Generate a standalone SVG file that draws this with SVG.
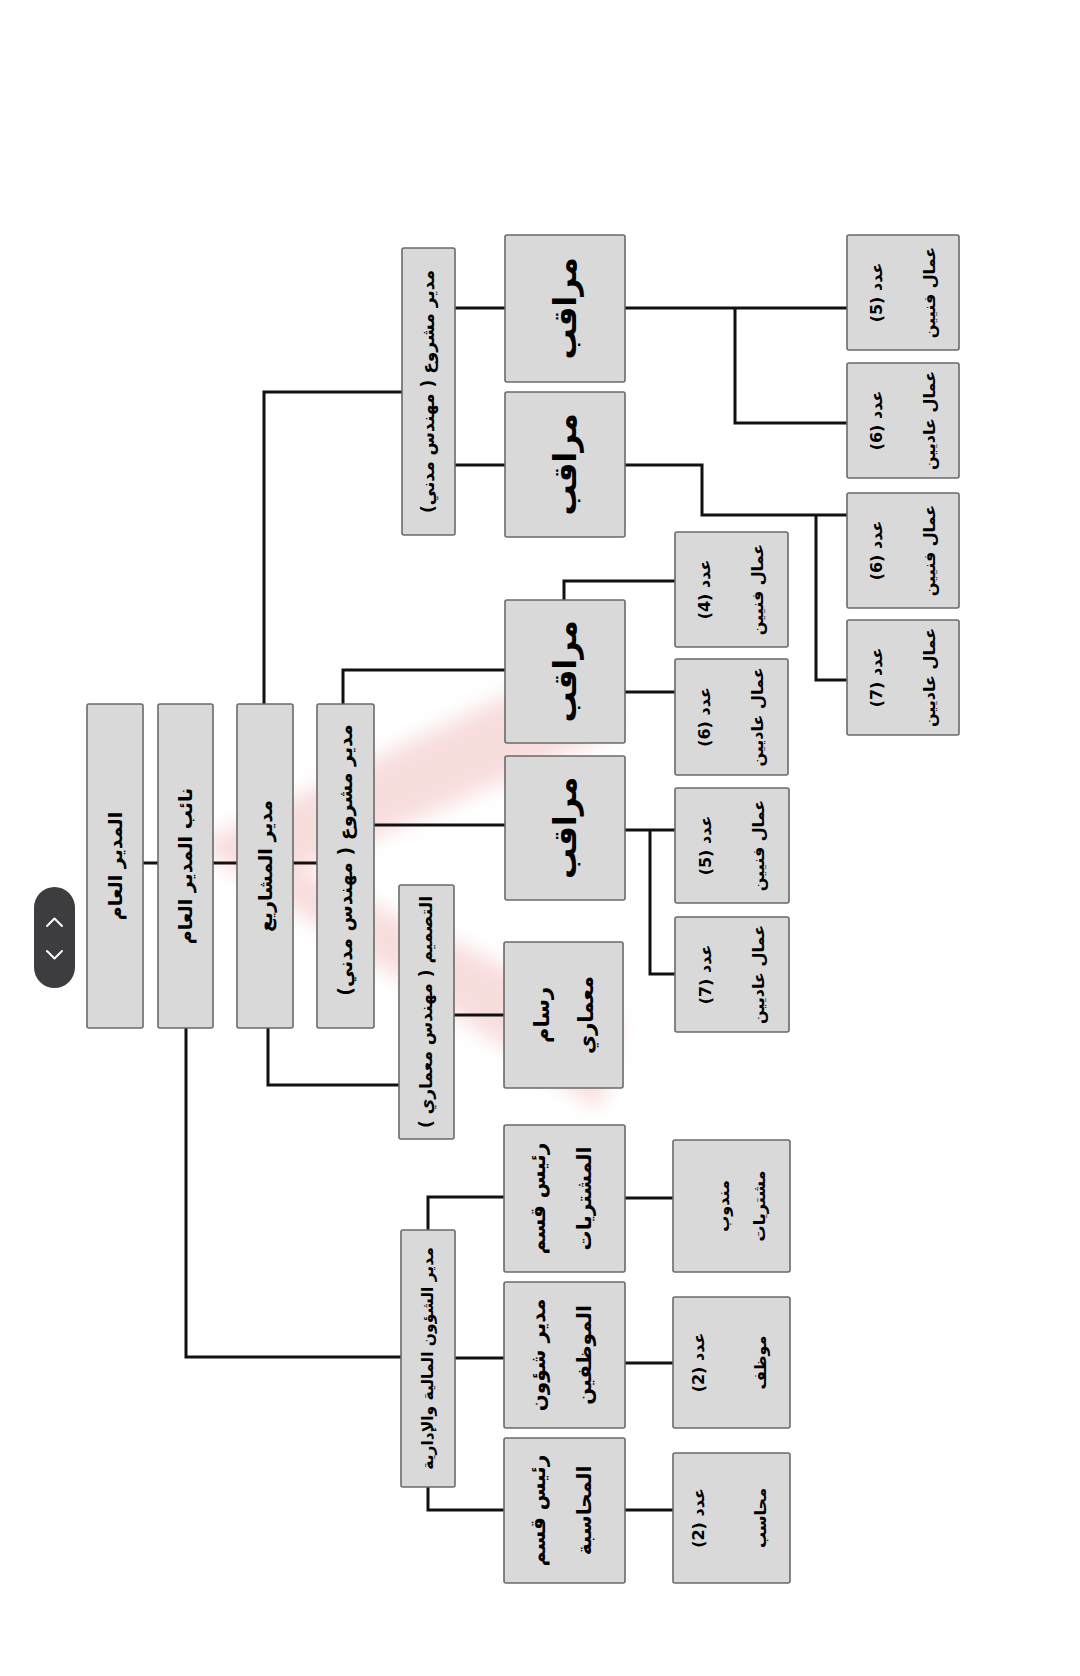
<svg xmlns="http://www.w3.org/2000/svg" width="1080" height="1676" viewBox="0 0 1080 1676">
<style>
.box{fill:#d9d9d9;stroke:#6a6a6a;stroke-width:1.6}
.ln{stroke:#111;stroke-width:3;fill:none;stroke-linecap:square}
.t{font-family:"DejaVu Sans",sans-serif;font-weight:bold;fill:#000;text-anchor:middle;direction:rtl;unicode-bidi:embed}
.s{font-size:15.5px}
.m{font-size:19px}
.n{font-size:17px}
.b{font-size:31px}
.w{font-size:16px}
</style>
<defs>
<filter id="soft" x="-20%" y="-20%" width="140%" height="140%"><feGaussianBlur stdDeviation="10"/></filter>
</defs>
<rect width="1080" height="1676" fill="#ffffff"/>
<g id="watermark" opacity="0.45" filter="url(#soft)">
<polygon points="195,845 600,650 620,730 300,870 620,1020 600,1110" fill="#f0b4b4"/>
</g>
<g id="connectors">
<path class="ln" d="M143,863H158M213,863H237M293,863H317"/>
<path class="ln" d="M264,704V392H402"/>
<path class="ln" d="M268,1028V1085H399"/>
<path class="ln" d="M186,1028V1357H401"/>
<path class="ln" d="M455,308H505M455,465H505"/>
<path class="ln" d="M625,308H847M735,308V423H847"/>
<path class="ln" d="M625,465H702V515H847M816,515V680H847"/>
<path class="ln" d="M343,704V670H505M374,825H505"/>
<path class="ln" d="M564,600V581H675M625,692H675"/>
<path class="ln" d="M625,830H675M650,830V974H675"/>
<path class="ln" d="M454,1015H504"/>
<path class="ln" d="M428,1230V1197H504M455,1358H504M428,1487V1510H504"/>
<path class="ln" d="M625,1198H673M625,1363H673M625,1510H673"/>
</g>
<g id="n-gm"><rect class="box" x="87" y="704" width="56" height="324" rx="2"/><text class="t m" transform="translate(115 866) rotate(-90)" dy="0.35em">المدير العام</text></g>
<g id="n-dgm"><rect class="box" x="158" y="704" width="55" height="324" rx="2"/><text class="t m" transform="translate(185.5 866) rotate(-90)" dy="0.35em">نائب المدير العام</text></g>
<g id="n-pd"><rect class="box" x="237" y="704" width="56" height="324" rx="2"/><text class="t m" transform="translate(265 866) rotate(-90)" dy="0.35em">مدير المشاريع</text></g>
<g id="n-pm2"><rect class="box" x="317" y="704" width="57" height="324" rx="2"/><text class="t m" transform="translate(345.5 860) rotate(-90)" dy="0.35em">مدير مشروع ( مهندس مدني)</text></g>
<g id="n-pm1"><rect class="box" x="402" y="248" width="53" height="287" rx="2"/><text class="t n" transform="translate(428.5 391.5) rotate(-90)" dy="0.35em">مدير مشروع ( مهندس مدني)</text></g>
<g id="n-design"><rect class="box" x="399" y="885" width="55" height="254" rx="2"/><text class="t n" transform="translate(426.5 1012) rotate(-90)" dy="0.35em">التصميم ( مهندس معماري )</text></g>
<g id="n-supA"><rect class="box" x="505" y="235" width="120" height="147" rx="2"/><text class="t b" transform="translate(565 308.5) rotate(-90)" dy="0.35em">مراقب</text></g>
<g id="n-supB"><rect class="box" x="505" y="392" width="120" height="145" rx="2"/><text class="t b" transform="translate(565 464.5) rotate(-90)" dy="0.35em">مراقب</text></g>
<g id="n-supC"><rect class="box" x="505" y="600" width="120" height="143" rx="2"/><text class="t b" transform="translate(565 671.5) rotate(-90)" dy="0.35em">مراقب</text></g>
<g id="n-supD"><rect class="box" x="505" y="756" width="120" height="144" rx="2"/><text class="t b" transform="translate(565 828) rotate(-90)" dy="0.35em">مراقب</text></g>
<g id="n-draft"><rect class="box" x="504" y="942" width="119" height="146" rx="2"/><text class="t" font-size="21" transform="translate(563.5 1015) rotate(-90)"><tspan x="0" y="-22" dy="0.35em">رسام</tspan><tspan x="0" y="22" dy="0.35em">معماري</tspan></text></g>
<g id="n-wC1"><rect class="box" x="675" y="532" width="113" height="115" rx="2"/><text class="t w" transform="translate(731.5 589.5) rotate(-90)"><tspan x="0" y="-27" dy="0.35em">عدد (4)</tspan><tspan x="0" y="26" dy="0.35em">عمال فنيين</tspan></text></g>
<g id="n-wC2"><rect class="box" x="675" y="659" width="113" height="116" rx="2"/><text class="t w" transform="translate(731.5 717) rotate(-90)"><tspan x="0" y="-27" dy="0.35em">عدد (6)</tspan><tspan x="0" y="26" dy="0.35em">عمال عاديين</tspan></text></g>
<g id="n-wD1"><rect class="box" x="675" y="788" width="114" height="115" rx="2"/><text class="t w" transform="translate(732 845.5) rotate(-90)"><tspan x="0" y="-27" dy="0.35em">عدد (5)</tspan><tspan x="0" y="26" dy="0.35em">عمال فنيين</tspan></text></g>
<g id="n-wD2"><rect class="box" x="675" y="917" width="114" height="115" rx="2"/><text class="t w" transform="translate(732 974.5) rotate(-90)"><tspan x="0" y="-27" dy="0.35em">عدد (7)</tspan><tspan x="0" y="26" dy="0.35em">عمال عاديين</tspan></text></g>
<g id="n-wA1"><rect class="box" x="847" y="235" width="112" height="115" rx="2"/><text class="t w" transform="translate(903 292.5) rotate(-90)"><tspan x="0" y="-27" dy="0.35em">عدد (5)</tspan><tspan x="0" y="26" dy="0.35em">عمال فنيين</tspan></text></g>
<g id="n-wA2"><rect class="box" x="847" y="363" width="112" height="115" rx="2"/><text class="t w" transform="translate(903 420.5) rotate(-90)"><tspan x="0" y="-27" dy="0.35em">عدد (6)</tspan><tspan x="0" y="26" dy="0.35em">عمال عاديين</tspan></text></g>
<g id="n-wB1"><rect class="box" x="847" y="493" width="112" height="115" rx="2"/><text class="t w" transform="translate(903 550.5) rotate(-90)"><tspan x="0" y="-27" dy="0.35em">عدد (6)</tspan><tspan x="0" y="26" dy="0.35em">عمال فنيين</tspan></text></g>
<g id="n-wB2"><rect class="box" x="847" y="620" width="112" height="115" rx="2"/><text class="t w" transform="translate(903 677.5) rotate(-90)"><tspan x="0" y="-27" dy="0.35em">عدد (7)</tspan><tspan x="0" y="26" dy="0.35em">عمال عاديين</tspan></text></g>
<g id="n-fin"><rect class="box" x="401" y="1230" width="54" height="257" rx="2"/><text class="t s" transform="translate(428 1358.5) rotate(-90)" dy="0.35em">مدير الشؤون المالية والإدارية</text></g>
<g id="n-purch"><rect class="box" x="504" y="1125" width="121" height="147" rx="2"/><text class="t" font-size="20" transform="translate(561 1198.5) rotate(-90)"><tspan x="0" y="-23" dy="0.35em">رئيس قسم</tspan><tspan x="0" y="23" dy="0.35em">المشتريات</tspan></text></g>
<g id="n-hr"><rect class="box" x="504" y="1282" width="121" height="146" rx="2"/><text class="t" font-size="20" transform="translate(561 1355) rotate(-90)"><tspan x="0" y="-23" dy="0.35em">مدير شؤون</tspan><tspan x="0" y="23" dy="0.35em">الموظفين</tspan></text></g>
<g id="n-acc"><rect class="box" x="504" y="1438" width="121" height="145" rx="2"/><text class="t" font-size="20" transform="translate(561 1510.5) rotate(-90)"><tspan x="0" y="-23" dy="0.35em">رئيس قسم</tspan><tspan x="0" y="23" dy="0.35em">المحاسبة</tspan></text></g>
<g id="n-rep"><rect class="box" x="673" y="1140" width="117" height="132" rx="2"/><text class="t w" transform="translate(741 1206) rotate(-90)"><tspan x="0" y="-18" dy="0.35em">مندوب</tspan><tspan x="0" y="18" dy="0.35em">مشتريات</tspan></text></g>
<g id="n-emp"><rect class="box" x="673" y="1297" width="117" height="131" rx="2"/><text class="t w" transform="translate(729 1362.5) rotate(-90)"><tspan x="0" y="-31" dy="0.35em">عدد (2)</tspan><tspan x="0" y="31" dy="0.35em">موظف</tspan></text></g>
<g id="n-acct"><rect class="box" x="673" y="1453" width="117" height="130" rx="2"/><text class="t w" transform="translate(729 1518) rotate(-90)"><tspan x="0" y="-31" dy="0.35em">عدد (2)</tspan><tspan x="0" y="31" dy="0.35em">محاسب</tspan></text></g>
<g id="scroll-widget">
<rect x="34" y="887" width="41" height="101" rx="20.5" fill="#3d3d3f"/>
<path d="M47,926L54.5,918.5L62,926M47,951L54.5,958.5L62,951" fill="none" stroke="#ffffff" stroke-width="2" stroke-linecap="round" stroke-linejoin="round"/>
</g>
</svg>
